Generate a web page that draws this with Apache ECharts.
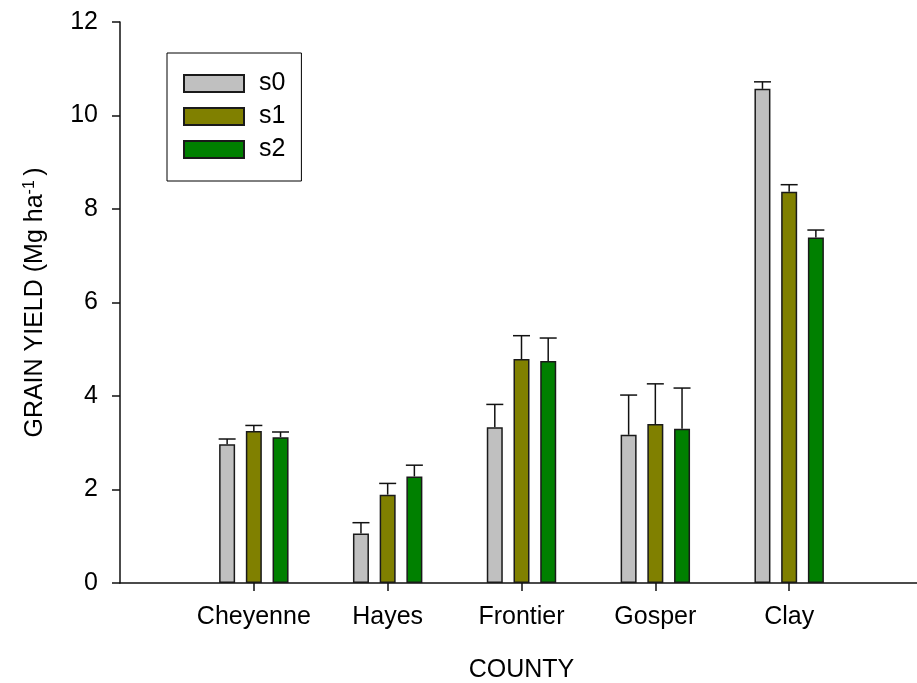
<!DOCTYPE html>
<html>
<head>
<meta charset="utf-8">
<script src="https://cdn.jsdelivr.net/npm/echarts@6/dist/echarts.min.js"></script>
<style>
  html, body { margin: 0; padding: 0; background: #fff; }
  #chart { width: 917px; height: 683px; }
</style>
</head>
<body>
<div id="chart"></div>
<script>
// counties along the x axis
const counties = ["Cheyenne", "Hayes", "Frontier", "Gosper", "Clay"];
const seriesNames = ["s0", "s1", "s2"];
const seriesColors = ["#c0c0c0", "#808000", "#008000"];

// mean grain yield (Mg ha-1)
const s0 = [2.97, 1.06, 3.33, 3.17, 10.57];
const s1 = [3.25, 1.89, 4.79, 3.40, 8.37];
const s2 = [3.12, 2.28, 4.75, 3.30, 7.39];

// top of the error bar (mean + error)
const s0Err = [3.08, 1.29, 3.82, 4.02, 10.72];
const s1Err = [3.37, 2.13, 5.29, 4.26, 8.52];
const s2Err = [3.23, 2.52, 5.24, 4.17, 7.55];

const yTicks = [0, 2, 4, 6, 8, 10, 12];

const font = 'Arial, "Liberation Sans", sans-serif';
const fontSize = 25;
const barWidth = 16;
const barStep = 26.7; // distance between bar centres in a group

// pad one empty slot each side so the groups sit at 1..5 of 0..6
const xData = [""].concat(counties, [""]);
const pad = arr => [null].concat(arr, [null]);

const means = [s0, s1, s2];
const errs = [s0Err, s1Err, s2Err];

function errorSeries(idx) {
  const data = [];
  counties.forEach((c, i) => {
    data.push([i + 1, means[idx][i], errs[idx][i]]);
  });
  return {
    type: "custom",
    name: seriesNames[idx] + "-err",
    z: 3,
    silent: true,
    data: data,
    renderItem(params, api) {
      const x = api.value(0);
      const base = api.coord([x, api.value(1)]);
      const top = api.coord([x, api.value(2)]);
      const cx = base[0] + (idx - 1) * barStep;
      const half = barWidth / 2 + 0.5;
      const style = { stroke: "#111", lineWidth: 1.5 };
      return {
        type: "group",
        children: [
          { type: "line", shape: { x1: cx, y1: base[1], x2: cx, y2: top[1] }, style },
          { type: "line", shape: { x1: cx - half, y1: top[1], x2: cx + half, y2: top[1] }, style }
        ]
      };
    }
  };
}

const chart = echarts.init(document.getElementById("chart"));

chart.setOption({
  animation: false,
  textStyle: { fontFamily: font, color: "#000" },
  grid: {
    left: 120,
    width: 803, // axis runs a little past the right edge of the canvas
    top: 22,
    bottom: 100,
    containLabel: false,
    outerBoundsMode: "none"
  },
  legend: {
    orient: "vertical",
    left: 167,
    top: 53,
    data: seriesNames,
    icon: "rect",
    itemWidth: 60,
    itemHeight: 17,
    itemGap: 8,
    padding: [18, 16, 19, 16],
    borderColor: "#000",
    borderWidth: 1,
    textStyle: {
      fontSize: fontSize,
      fontFamily: font,
      color: "#000",
      padding: [0, 0, 0, 10]
    }
  },
  xAxis: {
    type: "category",
    data: xData,
    boundaryGap: false,
    name: "COUNTY",
    nameLocation: "middle",
    nameGap: 75,
    nameTextStyle: { fontSize: fontSize, fontFamily: font, color: "#000" },
    axisLine: { lineStyle: { color: "#111", width: 1.5 } },
    axisTick: {
      length: 8,
      interval: (i) => i >= 1 && i <= counties.length,
      lineStyle: { color: "#111", width: 1.5 }
    },
    axisLabel: {
      fontSize: fontSize,
      color: "#000",
      margin: 22,
      interval: 0
    },
    splitLine: { show: false }
  },
  yAxis: {
    type: "value",
    min: yTicks[0],
    max: yTicks[yTicks.length - 1],
    interval: 2,
    name: "GRAIN YIELD (Mg ha{sup|-1}{gap| })",
    nameLocation: "middle",
    nameGap: 71,
    nameTextStyle: {
      fontSize: fontSize,
      fontFamily: font,
      color: "#000",
      rich: {
        sup: { fontSize: 16, fontFamily: font, color: "#000", verticalAlign: "top", padding: [0, 0, 11, 0] },
        gap: { fontSize: 16, fontFamily: font }
      }
    },
    axisLine: { show: true, lineStyle: { color: "#111", width: 1.5 } },
    axisTick: { show: true, length: 8, lineStyle: { color: "#111", width: 1.5 } },
    axisLabel: { fontSize: fontSize, color: "#000", margin: 22 },
    splitLine: { show: false }
  },
  series: seriesNames.map((name, k) => ({
    name: name,
    type: "bar",
    data: pad(means[k]),
    barWidth: barWidth,
    barGap: "67%",
    z: 2,
    itemStyle: { color: seriesColors[k], borderColor: "#1a1a1a", borderWidth: 1.5 }
  })).concat([errorSeries(0), errorSeries(1), errorSeries(2)])
});
</script>
</body>
</html>
